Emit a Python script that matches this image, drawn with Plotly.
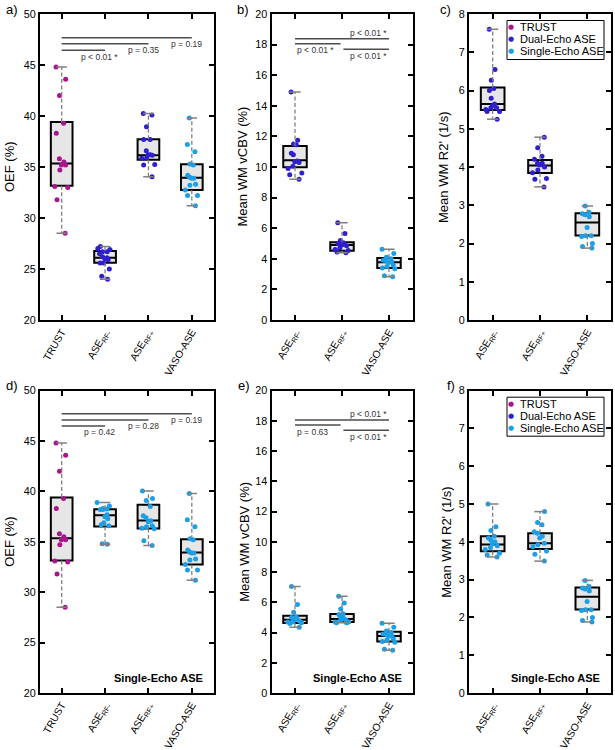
import plotly.graph_objects as go

# ---------------- data ----------------
cats_oef = ["TRUST", "ASE<sub>RF-</sub>", "ASE<sub>RF+</sub>", "VASO-ASE"]
cats_ase = ["ASE<sub>RF-</sub>", "ASE<sub>RF+</sub>", "VASO-ASE"]

# OEF (%)
trust_oef = [44.8, 43.6, 42.0, 39.3, 38.3, 35.8, 35.5, 35.2, 35.2, 34.7, 33.1, 33.0, 31.8, 28.5]
dual_oef_rfm = [27.2, 27.0, 26.9, 26.7, 26.7, 26.5, 26.2, 26.1, 26.0, 25.9, 25.6, 25.6, 25.0, 24.3, 24.0]
dual_oef_rfp = [40.25, 40.1, 38.95, 37.7, 37.7, 36.6, 36.2, 36.2, 36.15, 35.9, 35.85, 35.25, 35.2, 34.05]
vaso_oef = [39.8, 37.2, 36.5, 35.3, 35.2, 34.2, 34.0, 33.9, 33.9, 33.3, 33.2, 32.75, 32.2, 32.2, 31.2]
single_oef_rfm = [38.9, 38.55, 38.3, 38.25, 38.2, 38.2, 37.7, 37.5, 37.3, 36.9, 36.7, 36.6, 34.8, 34.75]
single_oef_rfp = [40.05, 39.3, 39.1, 38.5, 37.6, 37.4, 37.1, 37.0, 36.6, 36.5, 36.35, 36.3, 35.1, 34.65]
# box quartiles (q1, median, q3)
trust_oef_box = [33.15, 35.35, 39.4]
dual_oef_rfm_box = [25.62, 26.1, 26.76]
dual_oef_rfp_box = [35.72, 36.15, 37.71]
vaso_oef_box = [32.75, 33.95, 35.26]
single_oef_rfm_box = [36.52, 37.65, 38.24]
single_oef_rfp_box = [36.32, 37.12, 38.67]

# Mean WM vCBV (%)
dual_vcbv_rfm = [14.9, 11.75, 11.5, 11.45, 10.9, 10.8, 10.4, 10.35, 10.3, 10.05, 9.9, 9.6, 9.5, 9.2]
dual_vcbv_rfp = [6.35, 5.65, 5.2, 5.05, 5.0, 5.0, 4.95, 4.9, 4.85, 4.7, 4.6, 4.55, 4.45, 4.4]
vaso_vcbv = [4.62, 4.35, 4.1, 4.0, 3.9, 3.85, 3.8, 3.75, 3.6, 3.5, 3.4, 3.35, 2.9, 2.83]
single_vcbv_rfm = [7.05, 5.85, 5.35, 5.05, 5.0, 4.95, 4.9, 4.85, 4.75, 4.7, 4.7, 4.65, 4.6, 4.35]
single_vcbv_rfp = [6.4, 5.95, 5.55, 5.25, 5.2, 5.05, 4.95, 4.9, 4.85, 4.8, 4.7, 4.7, 4.65, 4.65]
dual_vcbv_rfm_box = [9.98, 10.44, 11.37]
dual_vcbv_rfp_box = [4.53, 4.9, 5.08]
vaso_vcbv_box = [3.4, 3.77, 4.05]
single_vcbv_rfm_box = [4.63, 4.84, 5.11]
single_vcbv_rfp_box = [4.69, 4.89, 5.22]

# Mean WM R2' (1/s)
dual_r2p_rfm = [7.6, 6.55, 6.27, 6.05, 6.0, 5.8, 5.65, 5.6, 5.55, 5.55, 5.5, 5.45, 5.45, 5.25]
dual_r2p_rfp = [4.78, 4.5, 4.28, 4.2, 4.1, 4.1, 4.05, 4.0, 3.92, 3.85, 3.7, 3.68, 3.48]
vaso_r2p = [2.98, 2.82, 2.78, 2.75, 2.7, 2.42, 2.2, 2.2, 2.18, 2.0, 1.92, 1.88]
single_r2p_rfm = [5.0, 4.4, 4.3, 4.15, 4.1, 4.05, 4.0, 3.95, 3.9, 3.85, 3.8, 3.7, 3.65, 3.6]
single_r2p_rfp = [4.8, 4.51, 4.45, 4.27, 4.23, 4.15, 4.1, 3.96, 3.92, 3.87, 3.76, 3.67, 3.49]
dual_r2p_rfm_box = [5.49, 5.65, 6.08]
dual_r2p_rfp_box = [3.84, 4.04, 4.18]
vaso_r2p_box = [2.21, 2.55, 2.79]
single_r2p_rfm_box = [3.75, 3.93, 4.15]
single_r2p_rfp_box = [3.81, 3.96, 4.23]

# p-values
pvals_a = ["p &lt; 0.01 *", "p = 0.35", "p = 0.19"]
pvals_b = ["p &lt; 0.01 *", "p &lt; 0.01 *", "p &lt; 0.01 *"]
pvals_d = ["p = 0.42", "p = 0.28", "p = 0.19"]
pvals_e = ["p &lt; 0.01 *", "p = 0.63", "p &lt; 0.01 *"]

legend_names = ["TRUST", "Dual-Echo ASE", "Single-Echo ASE"]

# ---------------- style ----------------
C_TRUST = "#a8158e"
C_DUAL = "#2e1fcf"
C_SINGLE = "#1c9fe6"
legend_colors = [C_TRUST, C_DUAL, C_SINGLE]
WHISK = "#808080"
PLINE = "#4d4d4d"
FONT = "Liberation Sans, Arial, Helvetica, sans-serif"

W, H = 615, 750
ML, MR, MT, MB = 40, 3, 14, 57
PW, PH = W - ML - MR, H - MT - MB
BOT = MT + PH
COLS = [(40, 213.5), (271.5, 412.5), (469, 611)]
ROWS = [(14, 320), (390.7, 693)]


def xdom(l, r):
    return [(l - ML) / PW, (r - ML) / PW]


def ydom(t, b):
    return [(BOT - b) / PH, (BOT - t) / PH]


def pxx(px):
    return (px - ML) / PW


def pxy(py):
    return (BOT - py) / PH


panels = [
    dict(row=0, col=0, cats=cats_oef, yr=(20, 50), dt=5, yt="OEF (%)", ytx=10, lab="a)", lx=12,
         groups=[(trust_oef, trust_oef_box, C_TRUST), (dual_oef_rfm, dual_oef_rfm_box, C_DUAL),
                 (dual_oef_rfp, dual_oef_rfp_box, C_DUAL), (vaso_oef, vaso_oef_box, C_SINGLE)],
         ps="nested", pv=pvals_a, lev=[46.44, 47.09, 47.68]),
    dict(row=0, col=1, cats=cats_ase, yr=(0, 20), dt=2, yt="Mean WM vCBV (%)", ytx=242.5, lab="b)", lx=243,
         groups=[(dual_vcbv_rfm, dual_vcbv_rfm_box, C_DUAL), (dual_vcbv_rfp, dual_vcbv_rfp_box, C_DUAL),
                 (vaso_vcbv, vaso_vcbv_box, C_SINGLE)],
         ps="triad", pv=pvals_b, lev=[18.39, 18.06, 17.69]),
    dict(row=0, col=2, cats=cats_ase, yr=(0, 8), dt=1, yt="Mean WM R2' (1/s)", ytx=444, lab="c)", lx=445,
         groups=[(dual_r2p_rfm, dual_r2p_rfm_box, C_DUAL), (dual_r2p_rfp, dual_r2p_rfp_box, C_DUAL),
                 (vaso_r2p, vaso_r2p_box, C_SINGLE)],
         ps=None, legend=True),
    dict(row=1, col=0, cats=cats_oef, yr=(20, 50), dt=5, yt="OEF (%)", ytx=10, lab="d)", lx=12,
         groups=[(trust_oef, trust_oef_box, C_TRUST), (single_oef_rfm, single_oef_rfm_box, C_SINGLE),
                 (single_oef_rfp, single_oef_rfp_box, C_SINGLE), (vaso_oef, vaso_oef_box, C_SINGLE)],
         ps="nested", pv=pvals_d, lev=[46.5, 47.1, 47.72], tag=True),
    dict(row=1, col=1, cats=cats_ase, yr=(0, 20), dt=2, yt="Mean WM vCBV (%)", ytx=245, lab="e)", lx=244,
         groups=[(single_vcbv_rfm, single_vcbv_rfm_box, C_SINGLE), (single_vcbv_rfp, single_vcbv_rfp_box, C_SINGLE),
                 (vaso_vcbv, vaso_vcbv_box, C_SINGLE)],
         ps="triad", pv=pvals_e, lev=[18.06, 17.73, 17.38], tag=True),
    dict(row=1, col=2, cats=cats_ase, yr=(0, 8), dt=1, yt="Mean WM R2' (1/s)", ytx=447, lab="f)", lx=451,
         groups=[(single_r2p_rfm, single_r2p_rfm_box, C_SINGLE), (single_r2p_rfp, single_r2p_rfp_box, C_SINGLE),
                 (vaso_r2p, vaso_r2p_box, C_SINGLE)],
         ps=None, legend=True, tag=True),
]

fig = go.Figure()
annos, shapes = [], []
layout = {}
CAP = 0.12
BOXW = 0.5


def axnames(n):
    return ("x" if n == 1 else f"x{n}"), ("y" if n == 1 else f"y{n}")


# pass 1: scatter-type lines (whiskers, caps, p-value bars)
for k, p in enumerate(panels):
    xa, ya = axnames(k + 1)
    for i, (pts, bx, col) in enumerate(p["groups"]):
        lo, hi = min(pts), max(pts)
        fig.add_trace(go.Scatter(x=[i, i, None, i, i], y=[bx[2], hi, None, bx[0], lo], mode="lines",
                                 line=dict(color=WHISK, width=1.3, dash="4px,2.5px"),
                                 xaxis=xa, yaxis=ya, hoverinfo="skip", showlegend=False))
        fig.add_trace(go.Scatter(x=[i - CAP, i + CAP, None, i - CAP, i + CAP], y=[hi, hi, None, lo, lo],
                                 mode="lines", line=dict(color=WHISK, width=1.5),
                                 xaxis=xa, yaxis=ya, hoverinfo="skip", showlegend=False))
    pfont = dict(family=FONT, size=8.5, color="#333333")
    if p["ps"] == "nested":
        for j, (txt, lv) in enumerate(zip(p["pv"], p["lev"])):
            fig.add_trace(go.Scatter(x=[0, j + 1], y=[lv, lv], mode="lines", line=dict(color=PLINE, width=1.5),
                                     xaxis=xa, yaxis=ya, hoverinfo="skip", showlegend=False))
            annos.append(dict(x=j + 1 - 0.12, y=lv, xref=xa, yref=ya, text=txt, showarrow=False,
                              xanchor="center", yanchor="middle", yshift=-6.5, font=pfont))
    elif p["ps"] == "triad":
        segs = [(0, 2), (0, 0.97), (1.03, 2)]
        for j, ((x0, x1), txt, lv) in enumerate(zip(segs, p["pv"], p["lev"])):
            fig.add_trace(go.Scatter(x=[x0, x1], y=[lv, lv], mode="lines", line=dict(color=PLINE, width=1.5),
                                     xaxis=xa, yaxis=ya, hoverinfo="skip", showlegend=False))
            if j == 0:
                annos.append(dict(x=2, y=lv, xref=xa, yref=ya, text=txt, showarrow=False,
                                  xanchor="right", yanchor="middle", yshift=6, font=pfont))
            elif j == 1:
                annos.append(dict(x=0, y=lv, xref=xa, yref=ya, text=txt, showarrow=False,
                                  xanchor="left", yanchor="middle", yshift=-6.5, font=pfont))
            else:
                annos.append(dict(x=2, y=lv, xref=xa, yref=ya, text=txt, showarrow=False,
                                  xanchor="right", yanchor="middle", yshift=-6.5, font=pfont))

# pass 2: boxes (quartiles)
for k, p in enumerate(panels):
    xa, ya = axnames(k + 1)
    for i, (pts, bx, col) in enumerate(p["groups"]):
        fig.add_trace(go.Box(x=[i], q1=[bx[0]], median=[bx[1]], q3=[bx[2]], lowerfence=[bx[0]],
                             upperfence=[bx[2]], width=BOXW, whiskerwidth=0, fillcolor="#e6e6e6",
                             line=dict(color="black", width=2), boxpoints=False,
                             xaxis=xa, yaxis=ya, hoverinfo="skip", showlegend=False))

# pass 3: individual points
for k, p in enumerate(panels):
    xa, ya = axnames(k + 1)
    for i, (pts, bx, col) in enumerate(p["groups"]):
        fig.add_trace(go.Box(x=[i] * len(pts), y=pts, boxpoints="all", jitter=0.75, pointpos=0, width=BOXW,
                             whiskerwidth=0, fillcolor="rgba(0,0,0,0)",
                             line=dict(color="rgba(0,0,0,0)", width=0),
                             marker=dict(color=col, size=5),
                             xaxis=xa, yaxis=ya, hoverinfo="y", showlegend=False))

# axes + annotations
for k, p in enumerate(panels):
    n = k + 1
    xa, ya = axnames(n)
    sfx = "" if n == 1 else str(n)
    cl, cr = COLS[p["col"]]
    rt, rb = ROWS[p["row"]]
    common = dict(ticks="inside", ticklen=5, tickwidth=1.5, tickcolor="black", showline=True, linewidth=2,
                  linecolor="black", mirror="allticks", showgrid=False, zeroline=False, fixedrange=True)
    layout["xaxis" + sfx] = dict(domain=xdom(cl, cr), anchor=ya, range=[-0.5, len(p["cats"]) - 0.5],
                                 tickmode="array", tickvals=list(range(len(p["cats"]))), ticktext=p["cats"],
                                 tickangle=-60, tickfont=dict(family=FONT, size=10.3, color="black"), **common)
    layout["yaxis" + sfx] = dict(domain=ydom(rt, rb), anchor=xa, range=list(p["yr"]), tickmode="linear",
                                 tick0=p["yr"][0], dtick=p["dt"],
                                 tickfont=dict(family=FONT, size=10.8, color="black"), **common)
    # y title
    annos.append(dict(x=pxx(p["ytx"]), y=pxy((rt + rb) / 2), xref="paper", yref="paper", text=p["yt"],
                      textangle=-90, showarrow=False, xanchor="center", yanchor="middle",
                      font=dict(family=FONT, size=13, color="black")))
    # panel label
    annos.append(dict(x=pxx(p["lx"]), y=pxy(rt - 5), xref="paper", yref="paper", text=p["lab"],
                      showarrow=False, xanchor="center", yanchor="middle",
                      font=dict(family=FONT, size=13, color="black")))
    if p.get("tag"):
        annos.append(dict(x=1, y=0, xref=xa + " domain", yref=ya + " domain", text="<b>Single-Echo ASE</b>",
                          showarrow=False, xanchor="right", yanchor="middle", xshift=-9, yshift=15,
                          font=dict(family=FONT, size=11, color="black")))
    if p.get("legend"):
        wpx, hpx = cr - cl, rb - rt
        fx = lambda px: (px - cl) / wpx
        fy = lambda py: (rb - py) / hpx
        shapes.append(dict(type="rect", xref=xa + " domain", yref=ya + " domain",
                           x0=fx(cr - 104), x1=fx(cr - 7), y0=fy(rt + 45.5), y1=fy(rt + 6.5),
                           line=dict(color="black", width=1), fillcolor="white", layer="above"))
        for j, (nm, c) in enumerate(zip(legend_names, legend_colors)):
            yy = fy(rt + 13 + 12.2 * j)
            annos.append(dict(x=fx(cr - 100), y=yy, xref=xa + " domain", yref=ya + " domain", text="●",
                              showarrow=False, xanchor="center", yanchor="middle",
                              font=dict(family="DejaVu Sans", size=7, color=c)))
            annos.append(dict(x=fx(cr - 93), y=yy, xref=xa + " domain", yref=ya + " domain", text=nm,
                              showarrow=False, xanchor="left", yanchor="middle",
                              font=dict(family=FONT, size=11, color="black")))

fig.update_layout(
    width=W, height=H,
    margin=dict(l=ML, r=MR, t=MT, b=MB, autoexpand=False),
    paper_bgcolor="white", plot_bgcolor="white",
    showlegend=False, boxmode="overlay",
    font=dict(family=FONT, size=12, color="black"),
    annotations=annos, shapes=shapes,
    **layout,
)

fig.write_html(
    "out.html",
    config={"displayModeBar": False},
    post_script="document.body.style.margin='0px';document.body.style.padding='0px';"
                "document.documentElement.style.overflow='hidden';",
)
